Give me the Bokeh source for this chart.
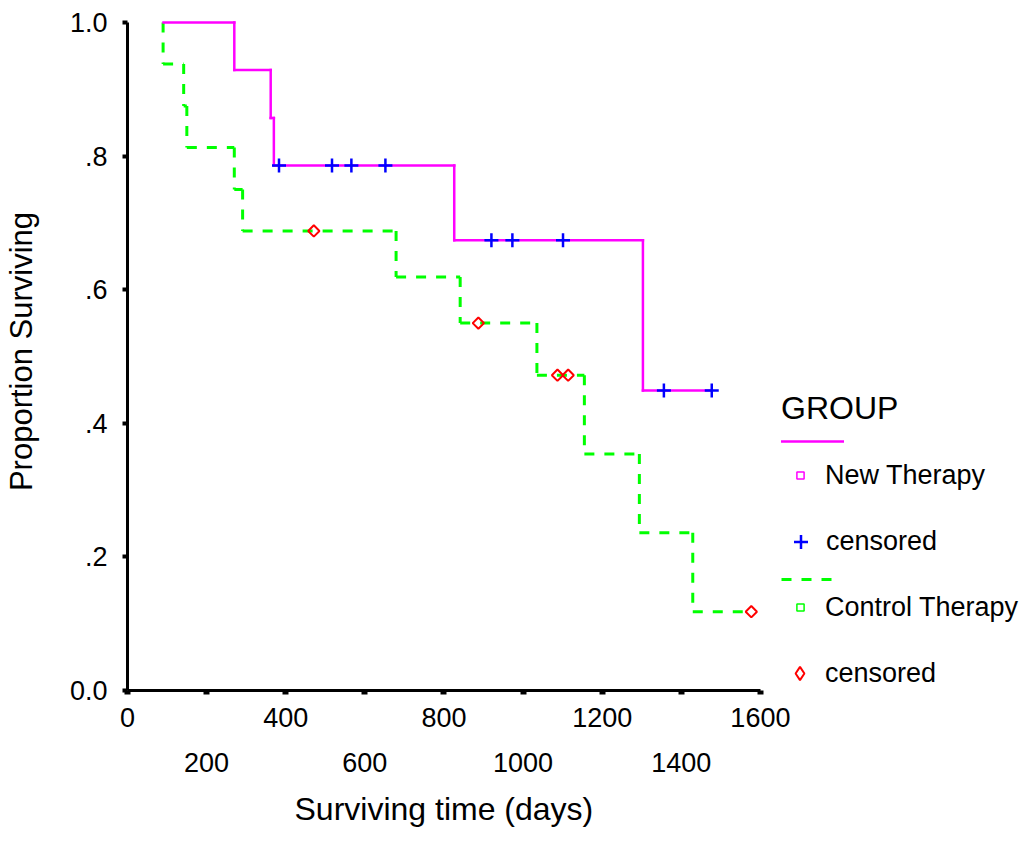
import math
import numpy as np
from bokeh.plotting import figure
from bokeh.models import Range1d, FixedTicker, LinearAxis, Legend, LegendItem, Title
from bokeh.embed import file_html
from bokeh.resources import INLINE

FONT = "Liberation Sans"

# ---- data ----
# New Therapy group
new_start = 91
new_end = 1477
new_event_times = [270, 362, 370, 826, 1303]
new_surv = [1.0, 0.929, 0.857, 0.786, 0.674, 0.449]
new_cens_times = [383, 517, 566, 652, 920, 973, 1101, 1356, 1477]
new_cens_surv = [0.786, 0.786, 0.786, 0.786, 0.674, 0.674, 0.674, 0.449, 0.449]

# Control Therapy group
ctrl_start = 90
ctrl_end = 1577
ctrl_event_times = [90, 142, 150, 270, 291, 679, 841, 1035, 1155, 1294, 1429]
ctrl_surv = [1.0, 0.938, 0.875, 0.813, 0.75, 0.688, 0.619, 0.55, 0.472, 0.354, 0.236, 0.118]
ctrl_cens_times = [471, 887, 1087, 1114, 1577]
ctrl_cens_surv = [0.688, 0.55, 0.472, 0.472, 0.118]

# axes
x_ticks = [0, 200, 400, 600, 800, 1000, 1200, 1400, 1600]
x_row1 = [0, 400, 800, 1200, 1600]
x_row2 = [200, 600, 1000, 1400]
y_ticks = [0, 0.2, 0.4, 0.6, 0.8, 1.0]
y_labels = ["0.0", ".2", ".4", ".6", ".8", "1.0"]

x_title = "Surviving time (days)"
y_title = "Proportion Surviving"
group_title = "GROUP"
group_names = ["New Therapy", "Control Therapy"]
censored_label = "censored"

MAGENTA, GREEN, BLUE, RED = "#FF00FF", "#00FF00", "#0000FF", "#FF0000"


def step_segments(start, end, times, surv):
    xs, ys = [], []
    edges = [start] + list(times) + [end]
    for i, s in enumerate(surv):
        xs.append([edges[i], edges[i + 1]])
        ys.append([s, s])
        if i + 1 < len(surv):
            xs.append([edges[i + 1], edges[i + 1]])
            ys.append([s, surv[i + 1]])
    return xs, ys


p = figure(width=1019, height=856,
           x_range=Range1d(0, 2255), y_range=Range1d(0, 1.015),
           output_backend="svg", toolbar_location=None,
           min_border_left=124, min_border_right=0,
           min_border_top=12, min_border_bottom=166)
p.outline_line_color = None
p.grid.visible = False

# ---- curves ----
cx, cy = step_segments(ctrl_start, ctrl_end, ctrl_event_times, ctrl_surv)
ctrl_line = p.multi_line(xs=cx, ys=cy, line_color=GREEN, line_width=3,
                         line_dash="10 10")
nx, ny = step_segments(new_start, new_end, new_event_times, new_surv)
new_line = p.multi_line(xs=nx, ys=ny, line_color=MAGENTA, line_width=2.5,
                        line_cap="square")

new_cens = p.scatter(new_cens_times, new_cens_surv, marker="cross", size=14,
                     line_color=BLUE, line_width=2.5)
p.scatter(ctrl_cens_times, ctrl_cens_surv, marker="square", angle=math.pi / 4,
          size=8, line_color=RED, fill_color=None, line_width=2)

# legend-only glyphs (no visible data point)
nan = np.array([np.nan])
new_sq = p.scatter(nan, nan, marker="square", line_color=MAGENTA,
                   fill_color=None, line_width=1.5)
ctrl_sq = p.scatter(nan, nan, marker="square", line_color=GREEN,
                    fill_color=None, line_width=1.5)
ctrl_dia = p.scatter(nan, nan, marker="diamond", line_color=RED,
                     fill_color=None, line_width=2)

# ---- axes ----
xa = p.xaxis[0]
xa.ticker = FixedTicker(ticks=x_ticks)
xa.major_label_overrides = {t: (str(t) if t in x_row1 else "") for t in x_ticks}
xa.bounds = (x_ticks[0], x_ticks[-1])
xa.axis_line_width = 3
xa.axis_line_color = "black"
xa.major_tick_line_width = 6
xa.major_tick_out = 4
xa.major_tick_in = 0
xa.minor_tick_line_color = None
xa.major_label_standoff = 13
xa.major_label_text_font = FONT
xa.major_label_text_font_size = "27px"
xa.major_label_text_color = "black"

# second (staggered) row of x tick labels
xa2 = LinearAxis(ticker=FixedTicker(ticks=x_row2), bounds=(x_ticks[0], x_ticks[-1]),
                 axis_line_color=None, major_tick_line_color=None,
                 minor_tick_line_color=None, major_tick_out=0, major_tick_in=0,
                 major_label_standoff=23, major_label_text_font=FONT,
                 major_label_text_font_size="27px", major_label_text_color="black")
p.add_layout(xa2, "below")

# x axis title under the axis extent
p.add_layout(Title(text=x_title, align="left", offset=167, standoff=28,
                   text_font=FONT, text_font_size="32px", text_font_style="normal",
                   text_color="black"), "below")

ya = p.yaxis[0]
ya.ticker = FixedTicker(ticks=y_ticks)
ya.major_label_overrides = dict(zip(y_ticks, y_labels))
ya.bounds = (0, 1)
ya.axis_line_width = 3
ya.axis_line_color = "black"
ya.major_tick_line_width = 4
ya.major_tick_out = 5
ya.major_tick_in = 0
ya.minor_tick_line_color = None
ya.major_label_standoff = 15
ya.major_label_text_font = FONT
ya.major_label_text_font_size = "27px"
ya.major_label_text_color = "black"
ya.axis_label = y_title
ya.axis_label_standoff = 28
ya.axis_label_text_font = FONT
ya.axis_label_text_font_size = "31px"
ya.axis_label_text_font_style = "normal"
ya.axis_label_text_color = "black"


# ---- legend (several pieces positioned like the original) ----
def add_legend(label, renderer, loc, gw, gh, standoff, font_size="27px", title=None):
    lg = Legend(items=[LegendItem(label=label, renderers=[renderer])],
                location=loc, glyph_width=gw, glyph_height=gh,
                label_standoff=standoff, padding=0, margin=0, spacing=0,
                border_line_color=None, background_fill_alpha=0,
                label_text_font=FONT, label_text_font_size=font_size,
                label_text_color="black")
    if title is not None:
        lg.title = title
        lg.title_text_font = FONT
        lg.title_text_font_size = "32px"
        lg.title_text_font_style = "normal"
        lg.title_text_color = "black"
        lg.title_standoff = 4
    p.add_layout(lg)
    return lg


add_legend(" ", new_line, (654, 239), 63, 20, 5, font_size="8px", title=group_title)
add_legend(group_names[0], new_sq, (664, 198), 18, 34, 16)
add_legend(censored_label, new_cens, (656, 131), 35, 35, 8)
add_legend(" ", ctrl_line, (654, 101), 53, 20, 5, font_size="8px")
add_legend(group_names[1], ctrl_sq, (664, 66), 18, 34, 16)
add_legend(censored_label, ctrl_dia, (656, 0), 33, 34, 9)

open("out.html", "w").write(file_html(p, INLINE))
